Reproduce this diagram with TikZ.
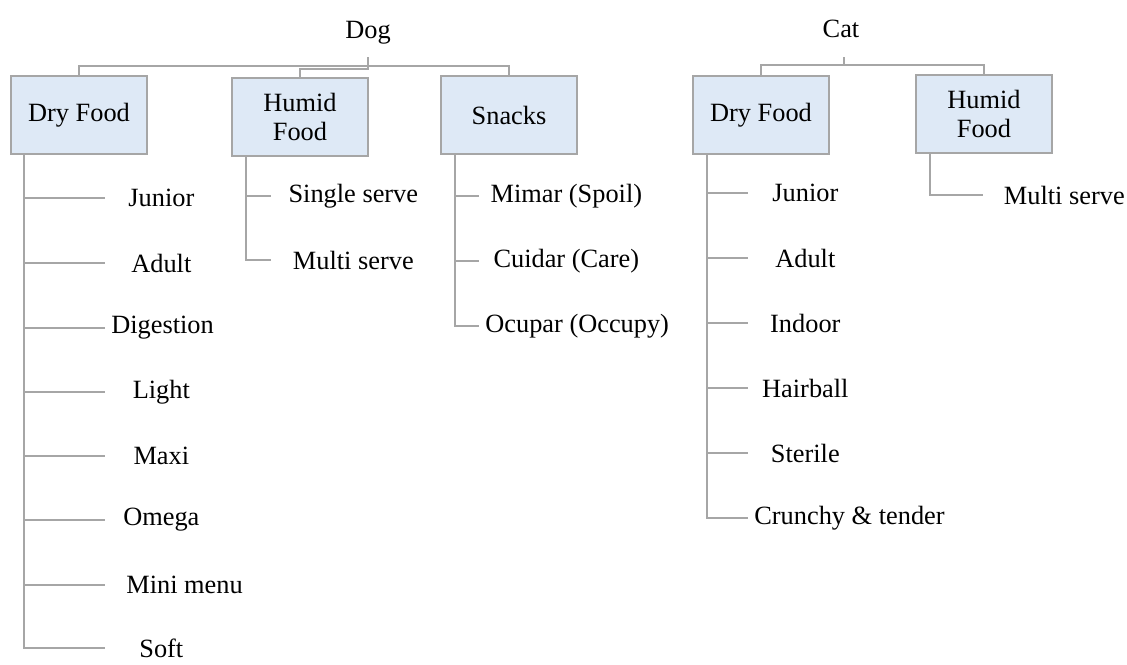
\documentclass[tikz,border=0pt]{standalone}
\usepackage{fontspec}
\setmainfont{Liberation Serif}

\definecolor{boxfill}{RGB}{222,233,246}
\definecolor{linegray}{RGB}{166,166,166}

\begin{document}
\begin{tikzpicture}[x=0.02cm, y=-0.02cm, font=\fontsize{15}{16.5}\selectfont]
    % Define styles
    \tikzset{
        group/.style={draw=linegray, line width=1.4pt, fill=boxfill, minimum width=2.72cm, minimum height=1.56cm, align=center},
        leaf/.style={anchor=west, inner xsep=0.12cm, inner ysep=1pt, minimum width=#1},
        leaf/.default=0cm,
        link/.style={draw=linegray, line width=1pt},
        animal/.style={inner sep=1pt}
    }

    \useasboundingbox (0,0) rectangle (1127,664);

    % Dog
    \node[animal] (dog) at (368,33) {Dog};
    \coordinate (dogstub) at (368,57);
    \coordinate (dogbus) at (368,66);
    \node[group] (ddry) at (79,115) {Dry Food};
    \node[group] (dhum) at (300,117) {Humid\\Food};
    \node[group] (dsnk) at (509,115) {Snacks};

    % Dog: dry food
    \node[leaf=2.24cm] (dd1) at (105,198) {Junior};
    \node[leaf=2.24cm] (dd2) at (105,263) {Adult};
    \node[leaf=2.24cm] (dd3) at (105,328) {Digestion};
    \node[leaf=2.24cm] (dd4) at (105,392) {Light};
    \node[leaf=2.24cm] (dd5) at (105,456) {Maxi};
    \node[leaf=2.24cm] (dd6) at (105,520) {Omega};
    \node[leaf=2.24cm] (dd7) at (105,585) {\hspace*{0.3cm}Mini menu};
    \node[leaf=2.24cm] (dd8) at (105,648) {Soft};

    % Dog: humid food
    \node[leaf=3.28cm] (dh1) at (271,196) {Single serve};
    \node[leaf=3.28cm] (dh2) at (271,260) {Multi serve};

    % Dog: snacks
    \node[leaf=3.48cm] (ds1) at (479,196) {Mimar (Spoil)};
    \node[leaf=3.48cm] (ds2) at (479,261) {Cuidar (Care)};
    \node[leaf=3.48cm] (ds3) at (479,326) {Ocupar (Occupy)};

    % Cat
    \node[animal] (cat) at (841,29) {Cat};
    \coordinate (catstub) at (844,57);
    \coordinate (catbus) at (844,65);
    \node[group] (cdry) at (761,115) {Dry Food};
    \node[group] (chum) at (984,114) {Humid\\Food};

    % Cat: dry food
    \node[leaf=2.28cm] (cd1) at (748,193) {Junior};
    \node[leaf=2.28cm] (cd2) at (748,258) {Adult};
    \node[leaf=2.28cm] (cd3) at (748,323) {Indoor};
    \node[leaf=2.28cm] (cd4) at (748,388) {Hairball};
    \node[leaf=2.28cm] (cd5) at (748,453) {Sterile};
    \node[leaf=2.28cm] (cd6) at (748,518) {Crunchy \& tender};

    % Cat: humid food
    \node[leaf=3.24cm] (ch1) at (983,195) {Multi serve};

    % Connecting lines
    \draw[link] (ddry.north) |- (dogbus) -| (dsnk.north);
    \draw[link] (dogstub) -- ++(0,12) -| (dhum.north);
    \draw[link] (cdry.north) |- (catbus) -| (chum.north);
    \draw[link] (catstub) -- (catbus);

    \foreach \i in {dd1,dd2,dd3,dd4,dd5,dd6,dd7,dd8} {
        \draw[link] ([xshift=0.28cm]ddry.south west) |- (\i.west);
    }
    \foreach \i in {dh1,dh2} {
        \draw[link] ([xshift=0.3cm]dhum.south west) |- (\i.west);
    }
    \foreach \i in {ds1,ds2,ds3} {
        \draw[link] ([xshift=0.3cm]dsnk.south west) |- (\i.west);
    }
    \foreach \i in {cd1,cd2,cd3,cd4,cd5,cd6} {
        \draw[link] ([xshift=0.3cm]cdry.south west) |- (\i.west);
    }
    \draw[link] ([xshift=0.3cm]chum.south west) |- (ch1.west);

\end{tikzpicture}
\end{document}
